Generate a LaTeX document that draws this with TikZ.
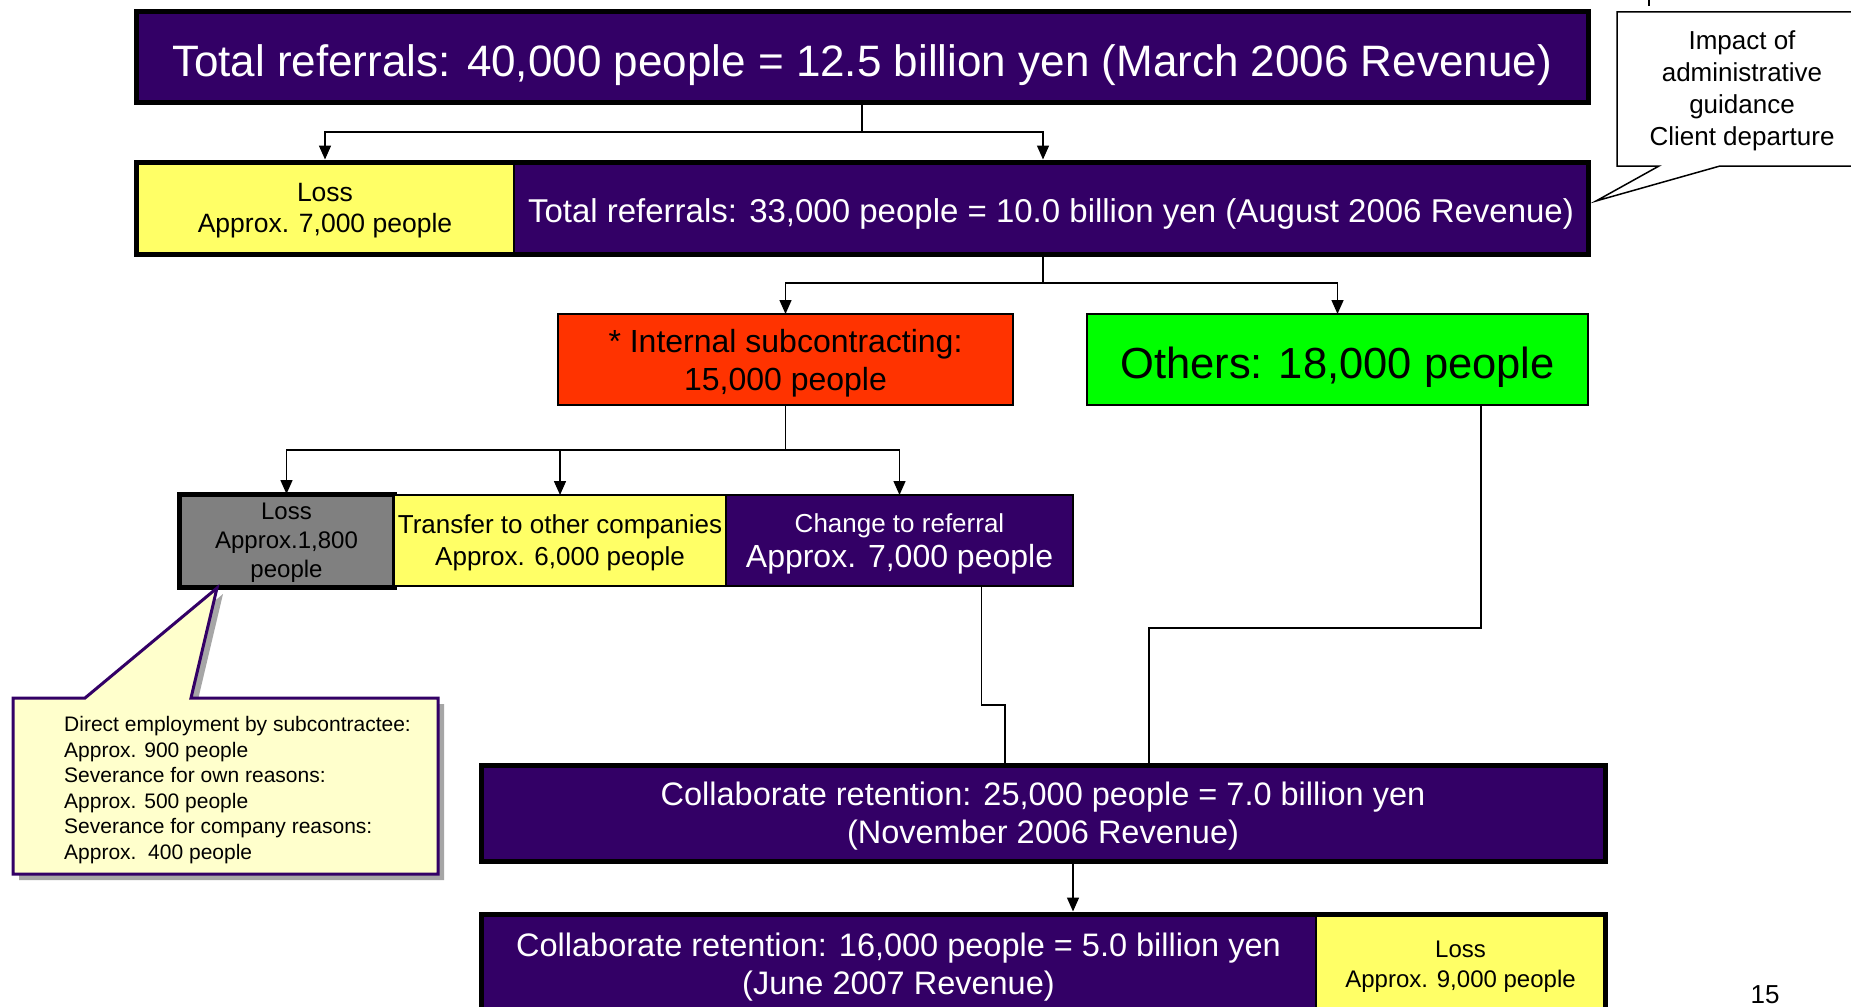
\documentclass[tikz,border=0pt]{standalone}
\usepackage{fontspec}
\setmainfont{Liberation Sans}
\usepackage{xcolor}
\usetikzlibrary{positioning,arrows.meta,calc,fit}

\definecolor{deepviolet}{RGB}{51,0,102}
\definecolor{lossyellow}{RGB}{255,255,102}
\definecolor{subred}{RGB}{255,51,0}
\definecolor{othgreen}{RGB}{0,255,0}
\definecolor{lossgray}{RGB}{128,128,128}
\definecolor{noteyellow}{RGB}{255,255,204}
\newcommand{\setsz}[2]{\fontsize{#1pt}{#2pt}\selectfont}

\begin{document}
\begin{tikzpicture}[x=1pt,y=-1pt,
    box/.style={rectangle, draw, line width=2pt, inner sep=0pt, outer sep=0pt, align=center,
        text depth=0pt, execute at begin node={\rule{0pt}{0.87em}}},
    frame/.style={draw, line width=5pt, inner sep=0pt},
    arr/.style={-{Triangle[length=14pt,width=12pt]}, line width=1.5pt},
    link/.style={line width=1.5pt}]
                \useasboundingbox (0,0) rectangle (1851,1006);
                \clip (0,0) rectangle (1851,1006);
                \fill[white] (0,0) rectangle (1851,1006);

                \node[box, frame, fill=deepviolet, text=white, minimum width=1452pt, minimum height=91pt, font=\setsz{44}{50}] (total0) at (862,57.5) {Total referrals: 40,000 people = 12.5 billion yen (March 2006 Revenue)};

                \node[box, fill=lossyellow, minimum width=378pt, minimum height=92pt, font=\setsz{26.5}{31}] (loss1) at (325,208) {Loss\\Approx. 7,000 people};
                \node[box, fill=deepviolet, text=white, minimum width=1074pt, minimum height=92pt, font=\setsz{33}{38}, right=0pt of loss1] (total1) {Total referrals: 33,000 people = 10.0 billion yen (August 2006 Revenue)};
                \node[frame, fit=(loss1)(total1)] (row1) {};

                \draw[line width=1.5pt, fill=white] (1617,12) -- (1875,12) -- (1875,166) -- (1720,166) -- (1596,201) -- (1659,166) -- (1617,166) -- cycle;
                \draw[line width=1.5pt] (1649,0) -- (1649,6);
                \node[align=center, font=\setsz{26}{32}] (impact) at (1742,91) {Impact of\\administrative\\guidance\\Client departure};

                \node[box, fill=subred, minimum width=455pt, minimum height=91pt, font=\setsz{32}{38}] (sub) at (785.5,359.5) {* Internal subcontracting:\\15,000 people};
                \node[box, fill=othgreen, minimum width=501pt, minimum height=91pt, font=\setsz{43.5}{50}] (others) at (1337.5,359.5) {Others: 18,000 people};

                \node[box, frame, fill=lossgray, minimum width=215pt, minimum height=93pt, font=\setsz{24}{29}] (loss2) at (286.5,540.5) {Loss\\Approx.1,800\\people};
                \node[box, fill=lossyellow, minimum width=332pt, minimum height=91pt, font=\setsz{26}{32}, right=0pt of loss2] (moved) {Transfer to other companies\\Approx. 6,000 people};
                \node[box, fill=deepviolet, text=white, minimum width=347pt, minimum height=91pt, font=\setsz{26}{35}, right=0pt of moved] (change) {Change to referral\\\setsz{32}{35}Approx. 7,000 people};

                \node[box, frame, fill=deepviolet, text=white, minimum width=1124pt, minimum height=96pt, font=\setsz{32.5}{38}] (keep1) at (1043,813) {Collaborate retention: 25,000 people = 7.0 billion yen\\(November 2006 Revenue)};

                \node[box, fill=deepviolet, text=white, minimum width=835pt, minimum height=100pt, font=\setsz{32.5}{38}] (keep2) at (898.5,964) {Collaborate retention: 16,000 people = 5.0 billion yen\\(June 2007 Revenue)};
                \node[box, fill=lossyellow, minimum width=289pt, minimum height=100pt, font=\setsz{24}{30}, right=0pt of keep2] (loss3) {Loss\\Approx. 9,000 people};
                \node[frame, fit=(keep2)(loss3)] (row4) {};

                \fill[gray!70, shift={(6,6)}] (13,698) -- (85,698) -- (217,588) -- (191,698) -- (438,698) -- (438,874) -- (13,874) -- cycle;
                \draw[line width=3pt, draw=deepviolet, fill=noteyellow] (13,698) -- (85,698) -- (217,588) -- (191,698) -- (438,698) -- (438,874) -- (13,874) -- cycle;
                \node[anchor=north west, align=left, inner sep=0pt, font=\setsz{21}{25.6}] (detail) at (64,716) {Direct employment by subcontractee:\\Approx. 900 people\\Severance for own reasons:\\Approx. 500 people\\Severance for company reasons:\\Approx.\ \ 400 people};

                \node[font=\setsz{26}{30}] (page) at (1765,995) {15};

                \draw[link] (total0.south) -- ++(0,29) coordinate (fork0);
                \draw[arr] (fork0) -| (loss1.north |- row1.north);
                \draw[arr] (fork0) -| ([xshift=-8pt]total1.north |- row1.north);

                \draw[link] ([xshift=-8pt]total1.south |- row1.south) -- ++(0,26.5) coordinate (fork1);
                \draw[arr] (fork1) -| (sub.north);
                \draw[arr] (fork1) -| (others.north);

                \draw[link] (sub.south) -- ++(0,45) coordinate (fork2);
                \draw[arr] (fork2) -| (loss2.north);
                \draw[arr] (fork2) -| (moved.north);
                \draw[arr] (fork2) -| (change.north);

                \draw[link] ([xshift=82pt]change.south) -- ++(0,119) -| ([xshift=-38pt]keep1.north);
                \draw[link] ([xshift=143.5pt]others.south) -- ++(0,223) -| ([xshift=106pt]keep1.north);
                \draw[arr] ([xshift=30pt]keep1.south) -- ([xshift=30pt]keep1.south |- row4.north);
            \end{tikzpicture}
\end{document}
